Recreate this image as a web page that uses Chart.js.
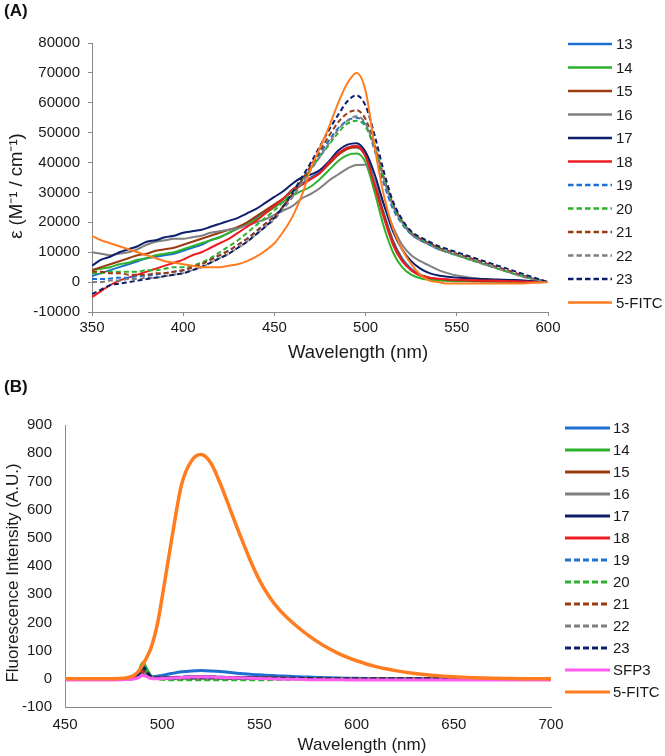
<!DOCTYPE html>
<html>
<head>
<meta charset="utf-8">
<script src="https://cdn.jsdelivr.net/npm/chart.js@4.4.1/dist/chart.umd.min.js"></script>
<style>
  html, body { margin: 0; padding: 0; background: #ffffff; }
  #wrap { position: relative; width: 665px; height: 756px; overflow: hidden; font-family: 'Liberation Sans', Arial, Helvetica, sans-serif; color: #1a1a1a; }
  .panel { position: absolute; left: 4px; font-weight: bold; font-size: 17px; line-height: 20px; color: #111; }
  .cv { position: absolute; left: 0; }
  .ttl { position: absolute; white-space: nowrap; line-height: 1; transform: translate(-50%, -50%); }
  .ttl.rot { transform: translate(-50%, -50%) rotate(-90deg); }
</style>
</head>
<body>
<div id="wrap">
  <canvas id="chartA" class="cv" width="665" height="370" style="top:0px"></canvas>
  <canvas id="chartB" class="cv" width="665" height="386" style="top:370px"></canvas>
  <div class="panel" style="top:1px">(A)</div>
  <div class="panel" style="top:377px">(B)</div>
  <div class="ttl" style="left:358px; top:352px; font-size:18.5px">Wavelength (nm)</div>
  <div class="ttl rot" style="left:16px; top:186px; font-size:18.5px">ε (M⁻¹ / cm⁻¹)</div>
  <div class="ttl" style="left:362px; top:744px; font-size:17px">Wavelength (nm)</div>
  <div class="ttl rot" style="left:12px; top:573px; font-size:17px">Fluorescence Intensity (A.U.)</div>
</div>
<script>
// ---------------- DATA: panel (A) absorbance ----------------
const waveA = [350,355,360,365,370,375,380,385,390,395,400,405,410,415,420,425,430,435,440,445,450,455,460,465,470,475,480,485,490,495,500,505,510,515,520,525,530,535,540,545,550,555,560,565,570,575,580,585,590,595,600];
const namesA = ['13','14','15','16','17','18','19','20','21','22','23','5-FITC'];
const a13 = [2000,3000,4000,5000,6000,7000,8000,8500,9000,9500,10500,11500,12500,14000,15000,16500,18000,19500,21500,23500,25500,28000,31000,33000,35000,37000,40000,43000,45000,45500,42500,33500,23000,14000,8000,4500,2500,1500,1000,800,600,500,400,300,300,200,200,100,100,0,0];
const a14 = [4000,4500,5000,6000,6500,7500,8000,9000,9500,10000,11000,12000,13000,14000,15000,16500,18000,19500,21000,23000,25000,27000,29000,30500,32000,34500,37500,40500,42500,43000,40000,30000,18500,10000,5000,2500,1300,800,500,400,300,300,200,200,200,100,100,100,0,0,0];
const a15 = [4000,5000,6000,7000,8000,9000,9500,10500,11000,11500,12500,13500,14500,15500,16500,17500,18500,20000,22000,24000,26000,28000,30500,32500,34500,36500,39500,42500,44500,45000,42000,33000,22500,13500,7500,4000,2200,1400,1000,800,600,500,400,300,300,200,200,100,100,0,0];
const a16 = [10000,9500,9000,9500,10000,11000,12500,13500,14000,14500,14500,15000,15500,16500,17000,17500,18000,19000,20000,21000,22500,24000,25500,28000,29500,31500,34000,36000,38000,39200,39300,34000,26000,18500,12500,9000,7000,5500,4000,3000,2200,1700,1300,1000,800,600,500,400,300,200,0];
const a17 = [5500,7500,8500,10000,11000,12000,13500,14000,15000,15500,16500,17000,17500,18500,19500,20500,21500,23000,24500,26500,28500,30500,33000,35000,36000,37500,40500,44000,46000,46500,43500,36000,26000,17000,11000,7000,4500,3000,2200,1800,1500,1300,1100,1000,900,800,700,600,400,200,0];
const a18 = [-5000,-3000,-1000,500,1500,2500,3500,4500,5500,6500,7500,9000,10000,11500,13000,14500,16500,18500,20500,23000,25500,28000,31000,32500,34500,36500,40000,43000,45000,45500,42000,32000,21500,12500,7000,4000,2300,1500,1100,900,800,700,600,500,500,400,300,200,100,0,0];
const a19 = [1000,1000,1200,1500,1500,2000,2200,2500,3000,3500,4000,5000,6000,7500,9000,10500,12500,14500,17000,19500,22000,25500,29500,34000,38500,43000,47500,51500,54000,55000,52500,44000,33000,24500,19500,16000,14000,12500,11000,10000,9000,8000,7000,6000,5000,4000,3000,2200,1400,700,0];
const a20 = [3000,3000,3500,3500,3500,3500,4000,4000,4500,5000,5000,5500,6500,8000,10000,12000,14000,16500,19000,21500,24000,27000,30500,34000,38000,42000,46000,50000,53000,54000,52000,45000,35000,26000,20000,16500,14500,13000,11500,10000,9000,8000,7000,6000,5000,4000,3000,2200,1400,700,0];
const a21 = [3500,3500,3000,3000,2500,2500,2500,3000,3000,3500,4000,5000,6000,7500,9000,10500,12500,14500,17000,19500,22000,25500,29500,34000,39000,44000,49000,53500,56500,57500,54500,46000,35000,26000,20500,16500,14500,13000,11500,10500,9500,8500,7500,6500,5500,4500,3500,2500,1500,800,0];
const a22 = [0,0,500,500,1000,1000,1500,1500,2000,2500,3000,4000,5000,6500,8000,9500,11500,13500,16000,18500,21000,24500,28500,33000,37500,42000,46500,51000,54000,55500,53000,45000,34500,25500,20000,16000,14000,12500,11000,10000,9000,8000,7000,6000,5000,4000,3000,2000,1200,600,0];
const a23 = [-4000,-2500,-1000,-500,0,500,1000,1500,2000,2500,3000,4000,5000,6500,8000,9500,11500,13500,16000,18500,21500,25500,30000,35000,40000,45500,51000,56000,60500,62500,59000,49000,37000,27000,21000,17000,15000,13500,12000,11000,10000,9000,8000,7000,6000,5000,4000,3000,2000,1000,0];
const aFitc = [15500,14000,13000,12000,11000,10000,9000,8000,7000,6500,6000,5500,5000,5000,5000,5500,6000,7000,8500,10500,13000,17000,22000,29000,38000,45000,52000,60000,66500,70000,64000,45000,29000,18000,11000,6000,2500,500,0,-500,-500,-500,-500,-500,-500,-500,-500,-500,-300,-200,0];
const yTicksA = [-10000, 80000, 10000];   // min, max, step
const xTicksA = [350, 600, 50];

// ---------------- DATA: panel (B) fluorescence ----------------
const waveB = [450,460,470,480,484,486,488,490,492,494,496,498,500,505,510,515,520,525,530,535,540,545,550,555,560,565,570,575,580,585,590,595,600,610,620,630,640,650,660,670,680,690,700];
const namesB = ['13','14','15','16','17','18','19','20','21','22','23','SFP3','5-FITC'];
const b13 = [0,0,0,0,0,2,6,14,10,7,8,10,12,19,25,28,29,28,26,22,19,16,14,12,10,9,7,6,5,4,3,2,2,1,1,0,0,0,0,0,0,0,0];
const b14 = [0,0,0,0,1,5,25,57,35,12,5,3,3,3,4,5,5,5,4,4,3,3,2,2,2,1,1,1,1,1,0,0,0,0,0,0,0,0,0,0,0,0,0];
const b15 = [0,0,0,0,1,3,14,30,18,6,3,2,2,3,4,5,5,5,4,4,3,3,2,2,2,1,1,1,1,0,0,0,0,0,0,0,0,0,0,0,0,0,0];
const b16 = [0,0,0,0,1,3,10,22,14,5,3,2,2,2,3,3,3,3,3,2,2,2,2,1,1,1,1,1,0,0,0,0,0,0,0,0,0,0,0,0,0,0,0];
const b17 = [0,0,0,0,1,4,20,43,27,8,4,3,3,4,5,6,6,6,5,5,4,4,3,3,2,2,2,1,1,1,0,0,0,0,0,0,0,0,0,0,0,0,0];
const b18 = [0,0,0,0,1,3,12,25,16,6,4,3,3,4,5,6,6,6,5,5,4,3,3,2,2,2,1,1,1,0,0,0,0,0,0,0,0,0,0,0,0,0,0];
const b19 = [0,0,0,0,1,4,16,35,22,7,4,4,4,5,6,7,7,7,6,5,5,4,3,3,2,2,1,1,1,0,0,0,0,0,0,0,0,0,0,0,0,0,0];
const b20 = [0,0,0,0,1,4,20,48,28,8,2,0,-2,-3,-3,-3,-3,-3,-3,-3,-3,-3,-3,-3,-2,-2,-1,-1,0,0,0,0,0,0,0,0,0,0,0,0,0,0,0];
const b21 = [0,0,0,0,1,3,13,28,17,6,3,2,2,3,4,4,4,4,4,3,3,3,2,2,2,1,1,1,0,0,0,0,0,0,0,0,0,0,0,0,0,0,0];
const b22 = [0,0,0,0,1,3,10,22,14,5,3,2,2,2,3,3,3,3,3,2,2,2,2,1,1,1,0,0,0,0,0,0,0,0,0,0,0,0,0,0,0,0,0];
const b23 = [0,0,0,0,1,4,18,40,25,8,4,3,3,3,4,4,4,4,4,3,3,3,2,2,2,1,1,1,0,0,0,0,0,0,0,0,0,0,0,0,0,0,0];
const bSfp3 = [-4,-4,-4,-3,-2,0,5,12,8,2,0,0,1,3,5,6,6,6,5,4,3,2,1,0,-1,-2,-2,-3,-3,-3,-3,-4,-4,-4,-4,-4,-4,-4,-4,-4,-4,-4,-4];
const bFitc = [0,0,0,2,8,15,28,50,75,105,150,210,290,500,690,772,795,765,690,600,510,425,350,292,247,212,182,155,131,110,92,77,64,43,29,19,12,7,4,2,1,0,0];
const yTicksB = [-100, 900, 100];
const xTicksB = [450, 700, 50];

// ---------------- STYLES ----------------
const FONT = "'Liberation Sans', Arial, Helvetica, sans-serif";
Chart.defaults.font.family = FONT;
const TEXT = '#1a1a1a';
const AXIS = '#8a8a8a';
const COL = {
  blue: '#1f6fd1', green: '#2cb22c', brown: '#9b3b12', grey: '#7f7f7f',
  navy: '#0d1e6b', red: '#ee1d23', orange: '#ff7c20', pink: '#ff5cf0'
};
const colorsA = [COL.blue, COL.green, COL.brown, COL.grey, COL.navy, COL.red, COL.blue, COL.green, COL.brown, COL.grey, COL.navy, COL.orange];
const dashedA = [false,false,false,false,false,false,true,true,true,true,true,false];
const colorsB = [COL.blue, COL.green, COL.brown, COL.grey, COL.navy, COL.red, COL.blue, COL.green, COL.brown, COL.grey, COL.navy, COL.pink, COL.orange];
const dashedB = [false,false,false,false,false,false,true,true,true,true,true,false,false];

function buildSets(wave, series, names, colors, dashed, width, dash, lastWidth) {
  const n = series.length;
  return series.map((vals, i) => ({
    label: names[i],
    data: vals.map((v, k) => ({ x: wave[k], y: v })),
    borderColor: colors[i],
    backgroundColor: colors[i],
    borderWidth: (i === n - 1 && lastWidth) ? lastWidth : width,
    borderDash: dashed[i] ? dash : [],
    pointRadius: 0,
    fill: false,
    cubicInterpolationMode: 'monotone',
    order: n - i   // later series drawn on top, like the original
  }));
}

const sideLegend = {
  id: 'sideLegend',
  afterDraw(chart, args, o) {
    const ctx = chart.ctx;
    ctx.save();
    chart.data.datasets.forEach((ds, i) => {
      const y = o.top + i * o.step;
      ctx.beginPath();
      ctx.setLineDash(ds.borderDash && ds.borderDash.length ? o.dash : []);
      ctx.strokeStyle = ds.borderColor;
      ctx.lineWidth = o.lineWidth;
      ctx.moveTo(o.x0, y);
      ctx.lineTo(o.x1, y);
      ctx.stroke();
      ctx.setLineDash([]);
      ctx.fillStyle = TEXT;
      ctx.font = o.fontSize + 'px ' + FONT;
      ctx.textBaseline = 'middle';
      ctx.textAlign = 'left';
      ctx.fillText(ds.label, o.x1 + o.gap, y + 1);
    });
    ctx.restore();
  }
};

function axisX(t, cfg) {
  return {
    type: 'linear', min: t[0], max: t[1],
    ticks: { stepSize: t[2], color: TEXT, font: { size: 15 }, padding: cfg.tickPad, maxRotation: 0, autoSkip: false },
    grid: { display: true, drawOnChartArea: false, drawTicks: cfg.tickLen > 0, tickLength: cfg.tickLen, color: AXIS },
    border: { display: true, color: AXIS, width: 1 },
    title: { display: false },
    afterFit: s => { s.height = cfg.height; }
  };
}
function axisY(t, cfg) {
  return {
    type: 'linear', min: t[0], max: t[1],
    ticks: { stepSize: t[2], color: TEXT, font: { size: 15 }, padding: cfg.tickPad, autoSkip: false, callback: v => String(v) },
    grid: { display: true, drawOnChartArea: false, drawTicks: cfg.tickLen > 0, tickLength: cfg.tickLen, color: AXIS },
    border: { display: true, color: AXIS, width: 1 },
    title: { display: false },
    afterFit: s => { s.width = cfg.width; }
  };
}

// ---------------- CHART A ----------------
new Chart(document.getElementById('chartA'), {
  type: 'line',
  data: { datasets: buildSets(waveA, [a13,a14,a15,a16,a17,a18,a19,a20,a21,a22,a23,aFitc], namesA, colorsA, dashedA, 2, [5, 3], 2) },
  options: {
    responsive: false, animation: false, devicePixelRatio: 1,
    layout: { padding: { left: 0, right: 117, top: 43, bottom: 0 } },
    plugins: {
      legend: { display: false }, tooltip: { enabled: false },
      sideLegend: { x0: 568, x1: 612, gap: 4, top: 44, step: 23.5, lineWidth: 2.5, fontSize: 15, dash: [5.5, 3] }
    },
    scales: {
      x: axisX(xTicksA, { tickPad: 3, tickLen: 4, height: 58 }),
      y: axisY(yTicksA, { tickPad: 8, tickLen: 4, width: 92 })
    }
  },
  plugins: [sideLegend]
});

// ---------------- CHART B ----------------
new Chart(document.getElementById('chartB'), {
  type: 'line',
  data: { datasets: buildSets(waveB, [b13,b14,b15,b16,b17,b18,b19,b20,b21,b22,b23,bSfp3,bFitc], namesB, colorsB, dashedB, 3, [6, 3], 3.5) },
  options: {
    responsive: false, animation: false, devicePixelRatio: 1,
    layout: { padding: { left: 0, right: 114, top: 55, bottom: 0 } },
    plugins: {
      legend: { display: false }, tooltip: { enabled: false },
      sideLegend: { x0: 565, x1: 610, gap: 3, top: 58, step: 22, lineWidth: 3, fontSize: 15, dash: [6, 3] }
    },
    scales: {
      x: axisX(xTicksB, { tickPad: 9, tickLen: 0, height: 49 }),
      y: axisY(yTicksB, { tickPad: 13, tickLen: 0, width: 65 })
    }
  },
  plugins: [sideLegend]
});
</script>
</body>
</html>
